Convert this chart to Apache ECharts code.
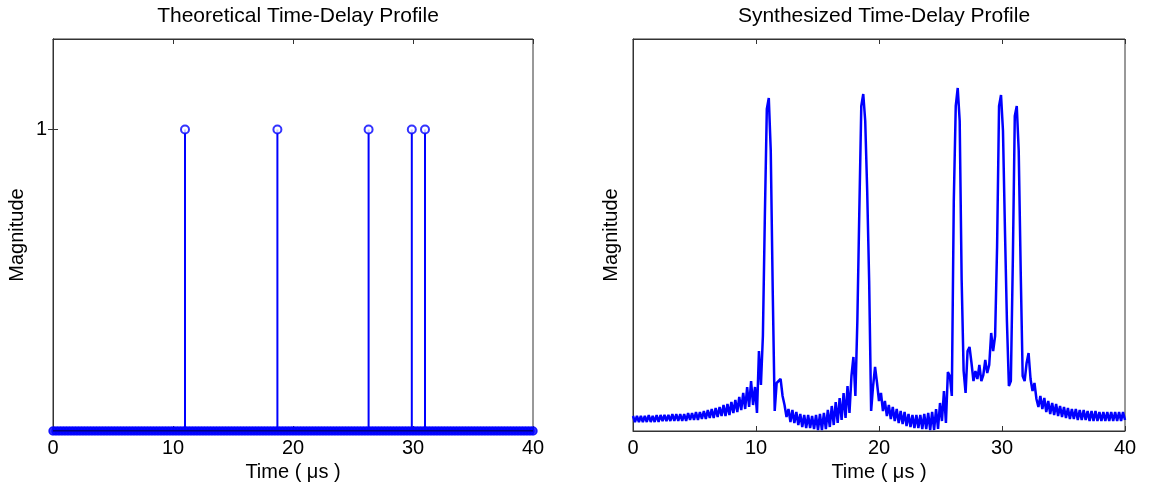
<!DOCTYPE html>
<html>
<head>
<meta charset="utf-8">
<script src="https://cdn.jsdelivr.net/npm/echarts@6/dist/echarts.min.js"></script>
<style>
html,body{margin:0;padding:0;background:#ffffff;}
#chart{width:1149px;height:491px;}
</style>
</head>
<body>
<div id="chart"></div>
<script>
// ---------- DATA ----------
const leftTitle = 'Theoretical Time-Delay Profile';
const rightTitle = 'Synthesized Time-Delay Profile';
const xAxisName = 'Time ( μs )';
const yAxisName = 'Magnitude';
const timeRange = [0, 40];
const timeTickStep = 10;
const leftYTicks = [1];

// Theoretical profile: unit impulses (stems)
const stemTimes = [11.0, 18.7, 26.3, 29.9, 31.0];
const stemValues = [1, 1, 1, 1, 1];

// Zero-valued samples drawn along the baseline
const zeroSampleTimes = [
  0,0.25,0.5,0.75,1,1.25,1.5,1.75,2,2.25,2.5,2.75,3,3.25,3.5,3.75,4,4.25,4.5,4.75,
  5,5.25,5.5,5.75,6,6.25,6.5,6.75,7,7.25,7.5,7.75,8,8.25,8.5,8.75,9,9.25,9.5,9.75,
  10,10.25,10.5,10.75,11,11.25,11.5,11.75,12,12.25,12.5,12.75,13,13.25,13.5,13.75,14,14.25,14.5,14.75,
  15,15.25,15.5,15.75,16,16.25,16.5,16.75,17,17.25,17.5,17.75,18,18.25,18.5,18.75,19,19.25,19.5,19.75,
  20,20.25,20.5,20.75,21,21.25,21.5,21.75,22,22.25,22.5,22.75,23,23.25,23.5,23.75,24,24.25,24.5,24.75,
  25,25.25,25.5,25.75,26,26.25,26.5,26.75,27,27.25,27.5,27.75,28,28.25,28.5,28.75,29,29.25,29.5,29.75,
  30,30.25,30.5,30.75,31,31.25,31.5,31.75,32,32.25,32.5,32.75,33,33.25,33.5,33.75,34,34.25,34.5,34.75,
  35,35.25,35.5,35.75,36,36.25,36.5,36.75,37,37.25,37.5,37.75,38,38.25,38.5,38.75,39,39.25,39.5,39.75,40
];

// Synthesized profile: magnitude sampled every 0.16 us (arbitrary units)
const synthSampleStepUs = 0.16;
const synthMagnitude = [
  0.15,0.09,0.15,0.09,0.15,0.09,0.15,0.09,0.16,0.09,
  0.15,0.09,0.16,0.09,0.16,0.10,0.16,0.10,0.16,0.10,
  0.17,0.10,0.17,0.10,0.17,0.10,0.17,0.10,0.18,0.11,
  0.18,0.11,0.19,0.11,0.19,0.12,0.20,0.12,0.21,0.13,
  0.22,0.13,0.23,0.14,0.24,0.15,0.26,0.15,0.27,0.16,
  0.29,0.18,0.31,0.19,0.34,0.21,0.38,0.22,0.44,0.24,
  0.50,0.26,0.44,0.18,0.80,0.46,0.95,2.15,3.22,3.33,
  2.80,1.40,0.20,0.48,0.50,0.52,0.35,0.26,0.14,0.22,
  0.09,0.21,0.08,0.19,0.06,0.17,0.04,0.16,0.03,0.16,
  0.03,0.15,0.02,0.16,0.01,0.17,0.01,0.18,0.02,0.21,
  0.04,0.25,0.06,0.29,0.08,0.33,0.11,0.38,0.13,0.45,
  0.18,0.55,0.74,0.35,1.10,2.20,3.25,3.37,3.10,2.40,
  1.50,0.20,0.45,0.64,0.48,0.30,0.38,0.20,0.30,0.15,
  0.26,0.12,0.24,0.10,0.22,0.08,0.20,0.07,0.19,0.05,
  0.17,0.04,0.16,0.03,0.16,0.03,0.16,0.02,0.17,0.02,
  0.18,0.01,0.19,0.01,0.22,0.02,0.28,0.10,0.40,0.08,
  0.59,0.55,0.35,2.30,3.25,3.43,3.10,1.51,0.60,0.38,
  0.80,0.84,0.68,0.50,0.60,0.52,0.66,0.50,0.56,0.71,
  0.58,0.66,0.98,0.80,0.95,1.84,3.25,3.36,3.00,2.01,
  1.10,0.45,0.50,1.70,3.15,3.25,2.80,1.60,0.55,0.50,
  0.68,0.78,0.52,0.40,0.48,0.32,0.24,0.35,0.22,0.33,
  0.19,0.30,0.17,0.28,0.16,0.27,0.15,0.25,0.14,0.24,
  0.13,0.23,0.12,0.22,0.12,0.22,0.11,0.21,0.11,0.21,
  0.11,0.20,0.10,0.20,0.10,0.20,0.10,0.19,0.10,0.19,
  0.10,0.19,0.10,0.19,0.10,0.19,0.10,0.19,0.10,0.19,0.11
];
const synthMax = 3.92;
const leftMax = 1.3;

// ---------- CHART ----------
const FONT = "'Liberation Sans', Arial, Helvetica, sans-serif";
const BLUE = '#0000ff';
const AXIS_COLOR = '#333333';

const stemData = stemTimes.map((t, i) => [t, stemValues[i]]);
const zeroData = zeroSampleTimes.map(t => [t, 0]);
const synthData = synthMagnitude.map((v, i) => [+(i * synthSampleStepUs).toFixed(2), v]);

function xAxisBottom(gridIndex) {
  return {
    gridIndex, type: 'value', position: 'bottom',
    min: timeRange[0], max: timeRange[1], interval: timeTickStep,
    axisLine: { show: true, onZero: false, lineStyle: { color: AXIS_COLOR, width: 1 } },
    axisTick: { show: true, inside: true, length: 5, lineStyle: { color: AXIS_COLOR } },
    axisLabel: { show: true, color: '#000', fontSize: 20, fontFamily: FONT, margin: 7 },
    splitLine: { show: false },
    name: xAxisName, nameLocation: 'middle', nameGap: 31,
    nameTextStyle: { color: '#000', fontSize: 20, fontFamily: FONT }
  };
}
function xAxisTop(gridIndex) {
  return {
    gridIndex, type: 'value', position: 'top',
    min: timeRange[0], max: timeRange[1], interval: timeTickStep,
    axisLine: { show: true, onZero: false, lineStyle: { color: AXIS_COLOR, width: 1 } },
    axisTick: { show: true, inside: true, length: 5, lineStyle: { color: AXIS_COLOR } },
    axisLabel: { show: false }, splitLine: { show: false }
  };
}

const option = {
  backgroundColor: '#ffffff',
  animation: false,
  title: [
    { text: leftTitle, left: 293, top: 1, textAlign: 'center',
      textStyle: { fontSize: 21, fontWeight: 'normal', color: '#000', fontFamily: FONT } },
    { text: rightTitle, left: 879, top: 1, textAlign: 'center',
      textStyle: { fontSize: 21, fontWeight: 'normal', color: '#000', fontFamily: FONT } }
  ],
  grid: [
    { left: 53, top: 39, width: 480, height: 392, show: true, borderColor: AXIS_COLOR, borderWidth: 1, containLabel: false },
    { left: 633, top: 39, width: 492, height: 392, show: true, borderColor: AXIS_COLOR, borderWidth: 1, containLabel: false }
  ],
  xAxis: [ xAxisBottom(0), xAxisTop(0), xAxisBottom(1), xAxisTop(1) ],
  yAxis: [
    { gridIndex: 0, type: 'value', position: 'left', min: 0, max: leftMax,
      axisLine: { show: true, lineStyle: { color: AXIS_COLOR } },
      axisTick: { show: true, inside: true, length: 5, customValues: leftYTicks, lineStyle: { color: AXIS_COLOR } },
      axisLabel: { show: true, customValues: leftYTicks, color: '#000', fontSize: 20, fontFamily: FONT, margin: 6 },
      splitLine: { show: false },
      name: yAxisName, nameLocation: 'middle', nameGap: 26,
      nameTextStyle: { color: '#000', fontSize: 20, fontFamily: FONT } },
    { gridIndex: 0, type: 'value', position: 'right', min: 0, max: leftMax,
      axisLine: { show: true, lineStyle: { color: AXIS_COLOR } },
      axisTick: { show: true, inside: true, length: 5, customValues: leftYTicks, lineStyle: { color: AXIS_COLOR } },
      axisLabel: { show: false }, splitLine: { show: false } },
    { gridIndex: 1, type: 'value', position: 'left', min: 0, max: synthMax,
      axisLine: { show: true, lineStyle: { color: AXIS_COLOR } },
      axisTick: { show: false }, axisLabel: { show: false }, splitLine: { show: false },
      name: yAxisName, nameLocation: 'middle', nameGap: 12,
      nameTextStyle: { color: '#000', fontSize: 20, fontFamily: FONT } }
  ],
  series: [
    { type: 'scatter', xAxisIndex: 0, yAxisIndex: 0, data: zeroData, clip: false,
      symbol: 'circle', symbolSize: 8, z: 3,
      itemStyle: { color: BLUE, borderColor: BLUE, borderWidth: 1.5 } },
    { type: 'custom', xAxisIndex: 0, yAxisIndex: 0, data: stemData, z: 4, clip: false,
      encode: { x: 0, y: 1 },
      renderItem: (params, api) => {
        const top = api.coord([api.value(0), api.value(1)]);
        const base = api.coord([api.value(0), 0]);
        return { type: 'line', shape: { x1: base[0], y1: base[1], x2: top[0], y2: top[1] },
                 style: { stroke: BLUE, lineWidth: 2 } };
      } },
    { type: 'line', xAxisIndex: 0, yAxisIndex: 0, data: [[timeRange[0], 0], [timeRange[1], 0]],
      showSymbol: false, symbol: 'none', z: 5, lineStyle: { color: '#000', width: 1 } },
    { type: 'scatter', xAxisIndex: 0, yAxisIndex: 0, data: stemData, clip: false,
      symbol: 'circle', symbolSize: 8, z: 6,
      itemStyle: { color: '#ffffff', borderColor: BLUE, borderWidth: 2 } },
    { type: 'line', xAxisIndex: 2, yAxisIndex: 2, data: synthData,
      showSymbol: false, symbol: 'none', z: 4,
      lineStyle: { color: BLUE, width: 2.5 } }
  ]
};

const chart = echarts.init(document.getElementById('chart'), null, { renderer: 'canvas' });
chart.setOption(option);
</script>
</body>
</html>
